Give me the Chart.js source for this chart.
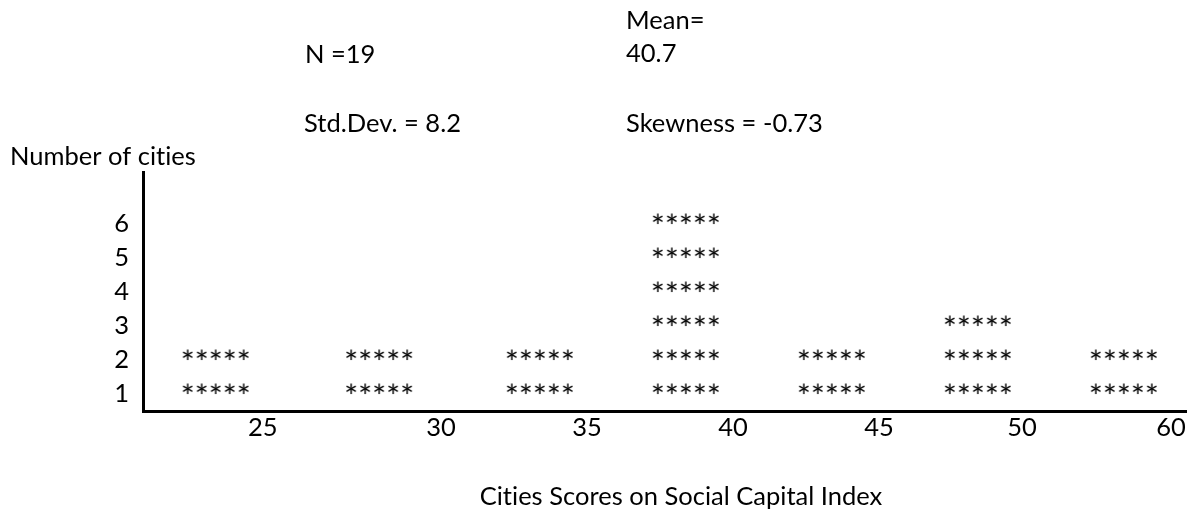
<!DOCTYPE html>
<html>
<head>
<meta charset="utf-8">
<script src="https://cdn.jsdelivr.net/npm/chart.js@4.4.1/dist/chart.umd.min.js"></script>
<style>
    html, body { margin: 0; padding: 0; background: #fff; }
    #wrap { position: relative; width: 1187px; height: 512px; }
</style>
</head>
<body>
<div id="wrap"><canvas id="histChart"></canvas></div>
<script>
(function () {
    // bins: position on the score axis and number of cities in each
    var binPos    = [22.3, 27.9, 33.4, 38.4, 43.4, 48.4, 53.4];
    var binCounts = [2, 2, 2, 6, 2, 3, 2];

    var xTickPos    = [23.9, 30, 35, 40, 45, 49.9, 55];
    var xTickLabels = ['25', '30', '35', '40', '45', '50', '60'];
    var yTickValues = [1, 2, 3, 4, 5, 6];

    var statN      = 'N =19';
    var statSd     = 'Std.Dev. = 8.2';
    var statMean   = ['Mean=', '40.7'];
    var statSkew   = 'Skewness = -0.73';
    var yTitle     = 'Number of cities';
    var xTitle     = 'Cities Scores on Social Capital Index';

    var FAMILY = 'Lato, "Open Sans", sans-serif';
    var SIZE = 25.5;
    var STAR_SIZE = 33;

    // one point per row of asterisks
    var points = [];
    binPos.forEach(function (x, i) {
        for (var k = 1; k <= binCounts[i]; k++) points.push({ x: x, y: k });
    });

    function noLigatures(ctx) {
        ctx.letterSpacing = '0.01px';
        ctx.textRendering = 'optimizeSpeed';
    }

    function starStamp() {
        var c = document.createElement('canvas');
        var ctx = c.getContext('2d');
        ctx.font = STAR_SIZE + 'px ' + FAMILY;
        var w = Math.ceil(ctx.measureText('*****').width);
        var m = ctx.measureText('*');
        c.width = w + 2;
        c.height = 36;
        ctx.font = STAR_SIZE + 'px ' + FAMILY;
        ctx.fillStyle = '#000';
        // glyph sits a little above the row's tick label
        var base = c.height / 2 + (m.actualBoundingBoxAscent - m.actualBoundingBoxDescent) / 2 - 6;
        ctx.fillText('*****', 1, base);
        return c;
    }

    var textPlugin = {
        id: 'statText',
        afterDraw: function (chart) {
            var ctx = chart.ctx;
            var xs = chart.scales.x;
            ctx.save();
            noLigatures(ctx);
            ctx.fillStyle = '#000';
            ctx.font = SIZE + 'px ' + FAMILY;
            ctx.textBaseline = 'alphabetic';
            ctx.textAlign = 'left';
            ctx.fillText(statMean[0], 626, 29);
            ctx.fillText(statMean[1], 626, 62);
            ctx.fillText(statN, 305, 63);
            ctx.fillText(statSd, 304, 132);
            ctx.fillText(statSkew, 626, 131.5);
            ctx.fillText(yTitle, 10, 165);
            ctx.textAlign = 'center';
            ctx.fillText(xTitle, 681, 505);
            // score axis labels, placed by the x scale
            ctx.textBaseline = 'middle';
            xTickPos.forEach(function (v, i) {
                ctx.fillText(xTickLabels[i], xs.getPixelForValue(v), 428);
            });
            ctx.restore();
        }
    };

    new Chart(document.getElementById('histChart'), {
        type: 'scatter',
        data: {
            datasets: [{
                data: points,
                pointStyle: starStamp(),
                pointRadius: 10,
            }],
        },
        options: {
            responsive: true,
            maintainAspectRatio: false,
            animation: false,
            events: [],
            layout: {
                autoPadding: false,
                padding: { top: 172, left: 0, right: 0, bottom: 0 },
            },
            plugins: {
                legend: { display: false },
                tooltip: { enabled: false },
            },
            scales: {
                x: {
                    type: 'linear',
                    min: 19.795,
                    max: 55.548,
                    grid: { drawOnChartArea: false, drawTicks: false },
                    border: { display: true, color: '#000', width: 3 },
                    afterFit: function (s) { s.height = 101; },
                    ticks: { display: false },
                },
                y: {
                    min: 0.5,
                    max: 7.53,
                    grid: { drawOnChartArea: false, drawTicks: false },
                    border: { display: true, color: '#000', width: 3 },
                    afterBuildTicks: function (s) {
                        s.ticks = yTickValues.map(function (v) { return { value: v }; });
                    },
                    afterFit: function (s) { s.width = 143; },
                    ticks: {
                        color: '#000',
                        font: { family: FAMILY, size: SIZE },
                        padding: 14,
                    },
                },
            },
        },
        plugins: [textPlugin],
    });
})();
</script>
</body>
</html>
